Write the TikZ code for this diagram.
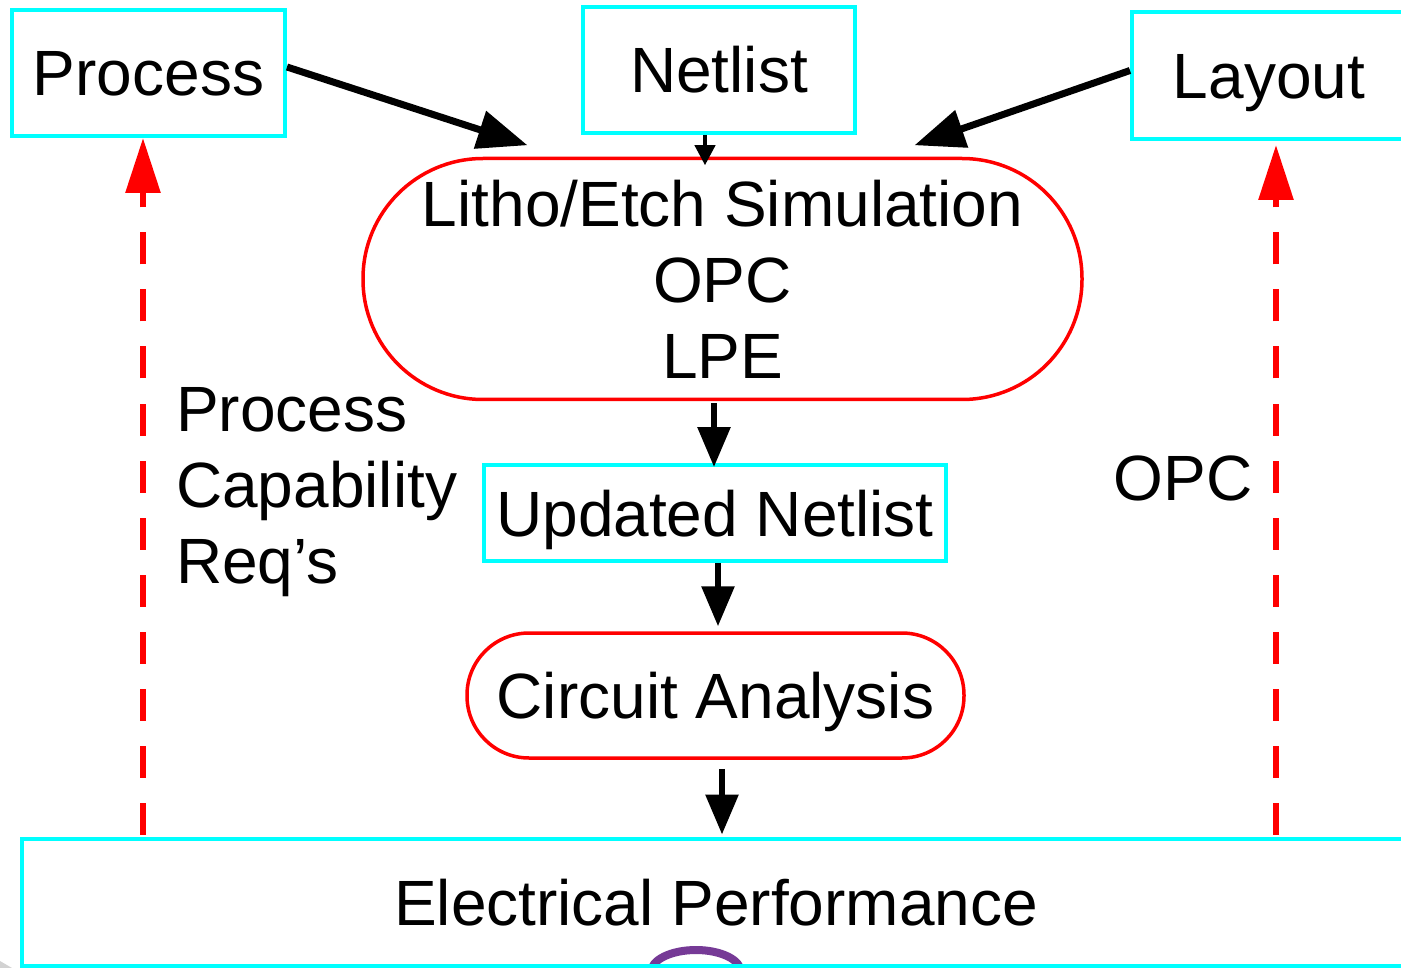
\documentclass[tikz,border=0pt]{standalone}
\usepackage{fontspec}
\setmainfont{Liberation Sans}
\usetikzlibrary{arrows.meta,calc}
\definecolor{boxcyan}{RGB}{0,255,255}
\definecolor{loopred}{RGB}{255,0,0}
\definecolor{logopurple}{RGB}{118,58,150}

\begin{document}
\begin{tikzpicture}[x=1pt,y=-1pt,
  every node/.style={font=\fontsize{64}{76}\selectfont, inner sep=0pt,
                     text height=46pt, text depth=0pt},
  threelines/.style={align=center, text height=198pt, text depth=0pt},
  databox/.style={draw=boxcyan, line width=4pt},
  stage/.style={draw=loopred, line width=3.5pt},
  feed/.style={line width=7pt, -{Triangle[length=50pt,width=38pt]}},
  flow/.style={line width=6pt, -{Triangle[length=40pt,width=32pt]}},
  feedback/.style={draw=loopred, line width=6pt, dash pattern=on 32pt off 25pt,
                   -{Triangle[length=55pt,width=34pt]}, color=loopred},
]
% page frame
\clip (0,0) rectangle (1401,968);
\fill[white] (0,0) rectangle (1401,968);

% logo fragment at the bottom edge
\begin{scope}
  \clip (600,900) rectangle (800,963);
  \draw[logopurple, line width=8pt] (696,972) ellipse [x radius=45, y radius=22];
\end{scope}
\fill[gray!35] (0,961) -- (12,968) -- (0,968) -- cycle;

% inputs
\node[databox, minimum width=273pt, minimum height=126pt] (proc) at (148.5,73) {Process};
\node[databox, minimum width=272pt, minimum height=126pt] (net) at (719,70) {Netlist};
\node[databox, minimum width=274pt, minimum height=127pt] (lay) at (1269,75.5) {Layout};

% flow stages
\node[stage, threelines, rounded corners=120pt, minimum width=719pt, minimum height=241pt]
  (litho) at (722.5,279) {Litho/Etch Simulation\\OPC\\LPE};
\node[databox, minimum width=462pt, minimum height=96pt] (upd) at (715,513) {Updated Netlist};
\node[stage, rounded corners=62pt, minimum width=497pt, minimum height=125pt]
  (circ) at (715.5,695.5) {Circuit Analysis};
\node[databox, minimum width=1388pt, minimum height=127pt] (elec) at (716,902) {Electrical Performance};

% feedback labels
\node[threelines, anchor=west, align=left] (req) at (176,484) {Process\\Capability\\Req’s};
\node (opc) at (1183,477) {OPC};

% inputs into simulation
\draw[feed] ([yshift=6pt]proc.east) -- ([xshift=-195pt,yshift=11.5pt]litho.north);
\draw[feed] ([yshift=5pt]lay.west) -- ([xshift=192pt,yshift=11.5pt]litho.north);
\draw[line width=4pt, -{Triangle[length=20pt,width=20pt]}]
  ([xshift=-14pt]net.south) -- ([xshift=-17.5pt,yshift=-8.5pt]litho.north);

% main flow
\draw[flow] ([xshift=-8.5pt,yshift=-2pt]litho.south) -- ([xshift=-1pt,yshift=-4pt]upd.north);
\draw[flow] ([xshift=3pt]upd.south) -- ([xshift=2.5pt,yshift=5pt]circ.north);
\draw[flow] ([xshift=6.5pt,yshift=-9pt]circ.south) -- ([xshift=6pt,yshift=2pt]elec.north);

% feedback loops
\draw[feedback] ($(elec.north -| proc.south)+(-5.5,-2)$) -- ($(proc.south)+(-5.5,0)$);
\draw[feedback] ($(elec.north -| lay.south)+(7,-2)$) -- ($(lay.south)+(7,4)$);
\end{tikzpicture}
\end{document}
